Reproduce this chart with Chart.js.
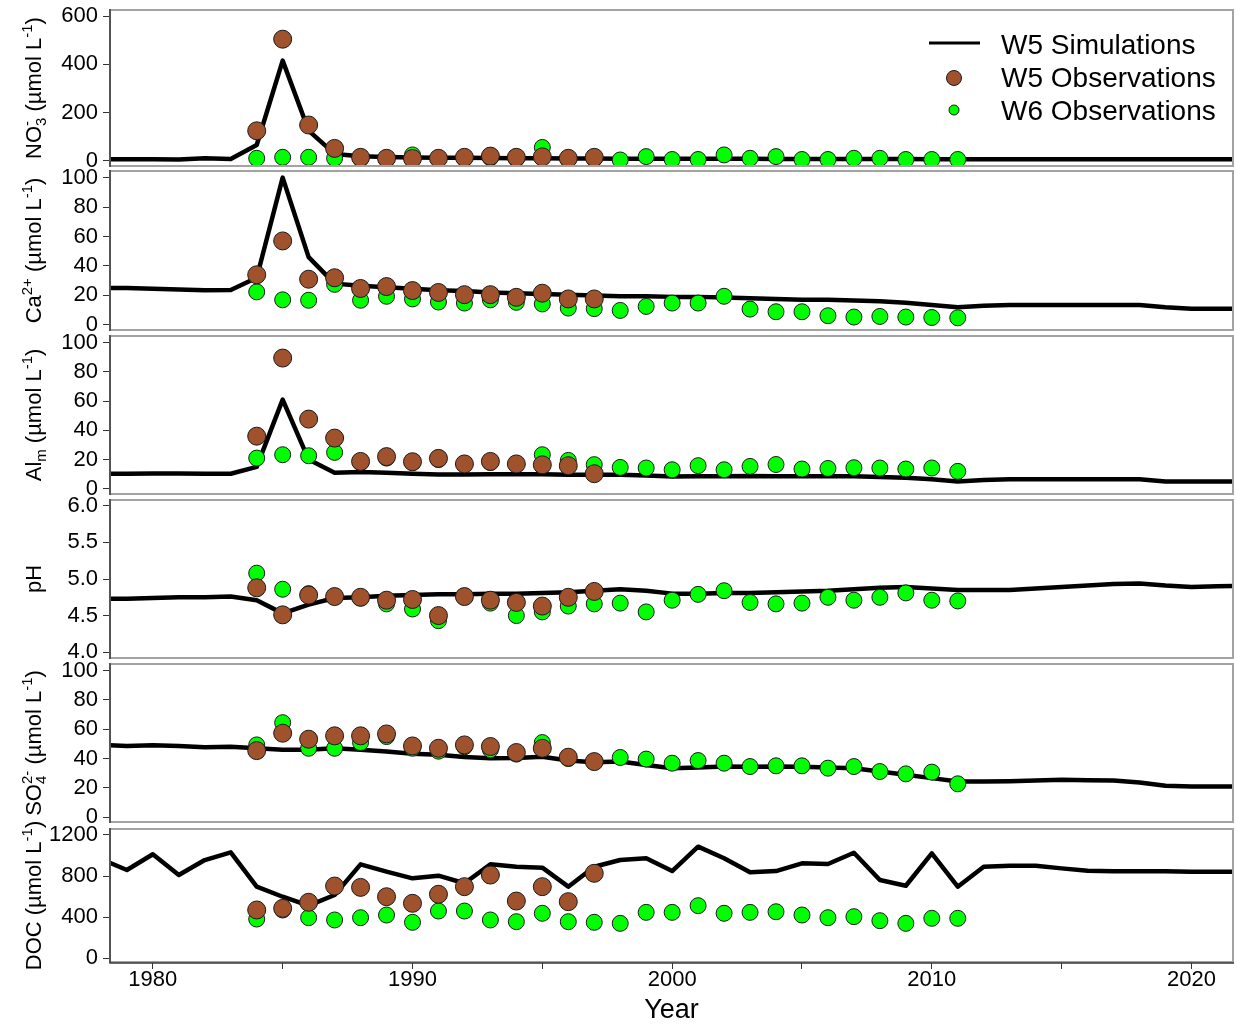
<!DOCTYPE html>
<html>
<head>
<meta charset="utf-8">
<title>W5 / W6 stream chemistry</title>
<script src="https://cdn.jsdelivr.net/npm/chart.js@4.4.1/dist/chart.umd.min.js"></script>
<style>
  html, body { margin: 0; padding: 0; background: #ffffff; }
  #page { position: relative; width: 1237px; height: 1027px; overflow: hidden; background: #ffffff; }
  #page canvas { position: absolute; left: 0; }
</style>
</head>
<body>
<div id="page"></div>
<script>
// ---------------- data ----------------
const simYears = [1978, 1979, 1980, 1981, 1982, 1983, 1984, 1985, 1986, 1987, 1988, 1989, 1990, 1991, 1992,
  1993, 1994, 1995, 1996, 1997, 1998, 1999, 2000, 2001, 2002, 2003, 2004, 2005, 2006, 2007, 2008, 2009, 2010,
  2011, 2012, 2013, 2014, 2015, 2016, 2017, 2018, 2019, 2020, 2021, 2022];
const w5Years = [1984, 1985, 1986, 1987, 1988, 1989, 1990, 1991, 1992, 1993, 1994, 1995, 1996, 1997];
const w6Years = [1984, 1985, 1986, 1987, 1988, 1989, 1990, 1991, 1992, 1993, 1994, 1995, 1996, 1997, 1998,
  1999, 2000, 2001, 2002, 2003, 2004, 2005, 2006, 2007, 2008, 2009, 2010, 2011];

// NO3- (umol/L)
const no3Sim = [6, 6, 6, 5, 10, 7, 65, 415, 125, 28, 18, 15, 13, 12, 12, 11, 10, 10, 9, 9, 8, 8, 8, 8, 8, 8,
  7, 7, 7, 7, 7, 7, 6, 6, 6, 6, 6, 6, 6, 6, 6, 6, 6, 6, 6];
const no3W5 = [124, 504, 148, 51, 14, 10, 9, 10, 14, 19, 14, 16, 10, 14];
const no3W6 = [10, 14, 14, 10, 8, 5, 24, 8, 10, 12, 8, 55, 5, 8, 3, 17, 5, 5, 24, 10, 17, 5, 5, 10, 10, 5, 5, 5];

// Ca2+ (umol/L)
const caSim = [25, 25, 24.5, 24, 23.5, 23.7, 32, 100, 46, 28, 26.5, 25.5, 24.5, 23.5, 23, 22, 21.5, 21, 20.5,
  20, 19.5, 19.5, 19, 19, 18.5, 18, 17.5, 17, 17, 16.5, 16, 15, 13.5, 12, 13, 13.5, 13.5, 13.5, 13.5, 13.5,
  13.5, 12, 11, 11, 11];
const caW5 = [34, 57, 31, 32, 24.7, 26, 23.3, 22, 20.5, 20.5, 18.7, 21.5, 17.6, 17.6];
const caW6 = [22.4, 17, 16.7, 27.5, 16.7, 19.4, 17.6, 15.5, 14.8, 17, 15.3, 14.2, 11.4, 11, 9.8, 12.5, 14.8,
  14.8, 19.4, 10.7, 8.9, 8.9, 6.2, 5.3, 5.7, 5.3, 5, 4.8];

// Al(m) (umol/L)
const alSim = [10.3, 10.3, 10.5, 10.5, 10.3, 10.3, 15, 61, 20, 11, 11.5, 11, 10.3, 9.8, 9.8, 10, 10, 10, 9.5,
  9.5, 9.5, 9, 8.4, 8.5, 8.5, 8.8, 8.6, 8.5, 8.5, 8.5, 8, 7.5, 6.5, 5, 6, 6.5, 6.5, 6.5, 6.5, 6.5, 6.5, 5, 5,
  5, 5];
const alW5 = [36, 89.5, 47.7, 34.7, 18.7, 22, 18.5, 20.8, 17, 18.7, 17, 16.4, 15.8, 10.3];
const alW6 = [21, 23.3, 22.6, 24.9, 18, 21, 18, 20, 17, 18, 17, 23.3, 19.4, 16.5, 14.6, 14.2, 13, 15.8, 13,
  15.3, 16.6, 13.5, 13.9, 14.4, 14.2, 13.5, 14.2, 11.9];

// pH
const phSim = [4.73, 4.73, 4.74, 4.75, 4.75, 4.76, 4.71, 4.53, 4.65, 4.74, 4.75, 4.77, 4.78, 4.79, 4.79, 4.8,
  4.8, 4.81, 4.82, 4.84, 4.86, 4.84, 4.8, 4.8, 4.81, 4.81, 4.82, 4.83, 4.84, 4.86, 4.88, 4.89, 4.87, 4.85,
  4.85, 4.85, 4.87, 4.89, 4.91, 4.93, 4.94, 4.91, 4.89, 4.9, 4.91];
const phW5 = [4.88, 4.51, 4.78, 4.76, 4.75, 4.71, 4.72, 4.5, 4.76, 4.71, 4.68, 4.63, 4.75, 4.83];
const phW6 = [5.08, 4.86, 4.8, 4.76, 4.74, 4.66, 4.59, 4.43, 4.76, 4.67, 4.5, 4.55, 4.63, 4.66, 4.67, 4.55,
  4.71, 4.79, 4.84, 4.68, 4.66, 4.67, 4.75, 4.71, 4.75, 4.81, 4.71, 4.7];

// SO4 2- (umol/L)
const so4Sim = [49.3, 48.5, 49, 48.5, 47.7, 48, 47, 46, 46, 47, 46, 44.8, 43.2, 42.5, 41, 40.2, 40.3, 41.2,
  38.6, 37.5, 37.9, 35.5, 33.4, 33.9, 34.5, 34.3, 34.5, 34.3, 33.9, 33.4, 31.1, 28.9, 26.6, 24.3, 24.3, 24.5,
  25, 25.4, 25.2, 25, 23.6, 21.4, 20.9, 20.9, 20.9];
const so4W5 = [45.4, 57.3, 53.2, 55.5, 55.5, 56.8, 48.6, 47, 49.3, 48.2, 44.1, 47, 40.9, 37.9];
const so4W6 = [49.3, 64.5, 47, 47, 50.9, 55, 47, 45, 48, 46, 43, 50.9, 40, 38, 40.7, 39.6, 36.8, 38.6, 36.8,
  34.5, 35, 35, 33.4, 34.5, 31.1, 29.5, 30.7, 22.7];

// DOC (umol/L)
const docSim = [965, 859, 1012, 810, 956, 1031, 697, 599, 512, 616, 914, 843, 778, 804, 730, 914, 891, 882,
  697, 891, 956, 973, 849, 1086, 973, 837, 849, 924, 918, 1027, 762, 706, 1021, 697, 891, 900, 900, 875, 852,
  848, 848, 846, 843, 843, 843];
const docW5 = [470, 486, 545, 703, 690, 599, 535, 623, 697, 810, 557, 697, 551, 827];
const docW6 = [382, 470, 395, 373, 395, 421, 350, 460, 460, 373, 356, 438, 356, 350, 340, 447, 447, 512, 438,
  447, 453, 421, 395, 405, 366, 340, 389, 389];

// axis ticks
const xTickYears = [1980, 1985, 1990, 1995, 2000, 2005, 2010, 2015, 2020];
const xLabelYears = [1980, 1990, 2000, 2010, 2020];
const no3Ticks = [0, 200, 400, 600];
const pctTicks = [0, 20, 40, 60, 80, 100];
const phTicks = [4.0, 4.5, 5.0, 5.5, 6.0];
const docTicks = [0, 400, 800, 1200];
const seriesNames = ['W5 Simulations', 'W5 Observations', 'W6 Observations'];

// ---------------- styling / layout ----------------
const FONT = "'Liberation Sans', Arial, Helvetica, sans-serif";
const PAGE_W = 1237, PAGE_H = 1027;
const PLOT_LEFT = 110, PLOT_RIGHT = 1233;
const X_MIN = 1978.35, X_MAX = 2021.6;
const SIM_COLOR = '#000000';
const W5_COLOR = '#a0522d';
const W6_COLOR = '#00ff00';
const EDGE_COLOR = '#1a1a1a';
const TICK_SIZE = 22;

const panels = [
  { top: 10, bottom: 166, min: -22, max: 625, ticks: no3Ticks, digits: 0,
    sim: no3Sim, w5: no3W5, w6: no3W6,
    title: [['NO'], ['3', '-', 'subsup'], [' (\u00b5mol L'], ['-1', 'sup'], [')']] },
  { top: 171, bottom: 330, min: -3.5, max: 104.5, ticks: pctTicks, digits: 0,
    sim: caSim, w5: caW5, w6: caW6,
    title: [['Ca'], ['2+', 'sup'], [' (\u00b5mol L'], ['-1', 'sup'], [')']] },
  { top: 336, bottom: 494, min: -3.6, max: 104.6, ticks: pctTicks, digits: 0,
    sim: alSim, w5: alW5, w6: alW6,
    title: [['Al'], ['m', 'sub'], [' (\u00b5mol L'], ['-1', 'sup'], [')']] },
  { top: 500, bottom: 658, min: 3.92, max: 6.08, ticks: phTicks, digits: 1,
    sim: phSim, w5: phW5, w6: phW6,
    title: [['pH']] },
  { top: 664, bottom: 822, min: -3.4, max: 104.6, ticks: pctTicks, digits: 0,
    sim: so4Sim, w5: so4W5, w6: so4W6,
    title: [['SO'], ['4', '2-', 'subsup'], [' (\u00b5mol L'], ['-1', 'sup'], [')']] },
  { top: 829, bottom: 962, min: -36, max: 1258, ticks: docTicks, digits: 0,
    sim: docSim, w5: docW5, w6: docW6,
    title: [['DOC (\u00b5mol L'], ['-1', 'sup'], [')']] }
];

// ---------------- plugins ----------------
// Rotated y-axis title with sub/superscripts
const richTitle = {
  id: 'richTitle',
  afterDraw(chart, args, o) {
    if (!o || !o.parts) return;
    const ctx = chart.ctx, a = chart.chartArea;
    const size = o.size, small = size * 0.68;
    const big = `${size}px ${FONT}`, little = `${small}px ${FONT}`;
    const w = (t, f) => { ctx.font = f; return ctx.measureText(t).width; };
    const items = o.parts.map(p => {
      const kind = p[p.length - 1];
      if (p.length === 1) return { kind: 'n', t: p[0], width: w(p[0], big) };
      if (kind === 'subsup') return { kind, sub: p[0], sup: p[1], width: Math.max(w(p[0], little), w(p[1], little)) };
      return { kind, t: p[0], width: w(p[0], little) };
    });
    const total = items.reduce((s, it) => s + it.width, 0);
    ctx.save();
    ctx.translate(o.x, (a.top + a.bottom) / 2);
    ctx.rotate(-Math.PI / 2);
    ctx.fillStyle = '#000';
    ctx.textAlign = 'left';
    ctx.textBaseline = 'alphabetic';
    let cx = -total / 2;
    const upShift = -size * 0.42, downShift = size * 0.22;
    items.forEach(it => {
      if (it.kind === 'n') { ctx.font = big; ctx.fillText(it.t, cx, 0); }
      else if (it.kind === 'sup') { ctx.font = little; ctx.fillText(it.t, cx, upShift); }
      else if (it.kind === 'sub') { ctx.font = little; ctx.fillText(it.t, cx, downShift); }
      else { ctx.font = little; ctx.fillText(it.sub, cx, downShift); ctx.fillText(it.sup, cx, upShift); }
      cx += it.width;
    });
    ctx.restore();
  }
};

// Panel frame: grey box, darker left axis (and bottom axis on the last panel)
const panelFrame = {
  id: 'panelFrame',
  afterDatasetsDraw(chart, args, o) {
    const ctx = chart.ctx, a = chart.chartArea;
    ctx.save();
    ctx.lineWidth = 2;
    ctx.strokeStyle = '#a3a3a3';
    ctx.strokeRect(a.left, a.top, a.right - a.left, a.bottom - a.top);
    ctx.strokeStyle = '#3a3a3a';
    ctx.lineWidth = 1.5;
    ctx.beginPath();
    ctx.moveTo(a.left, a.top - 1);
    ctx.lineTo(a.left, a.bottom + 1);
    if (o && o.baseAxis) { ctx.lineTo(a.right + 1, a.bottom + 1); }
    ctx.stroke();
    ctx.restore();
  }
};

// Series key drawn inside the first panel
const seriesKey = {
  id: 'seriesKey',
  afterDraw(chart, args, o) {
    if (!o || !o.show) return;
    const ctx = chart.ctx;
    ctx.save();
    ctx.font = `${o.size}px ${FONT}`;
    ctx.fillStyle = '#000';
    ctx.textAlign = 'left';
    ctx.textBaseline = 'middle';
    const rows = [45, 78, 111];
    // line sample
    ctx.strokeStyle = SIM_COLOR; ctx.lineWidth = 3;
    ctx.beginPath(); ctx.moveTo(929, rows[0] - 2); ctx.lineTo(980, rows[0] - 2); ctx.stroke();
    // markers
    ctx.lineWidth = 1; ctx.strokeStyle = EDGE_COLOR;
    ctx.fillStyle = W5_COLOR;
    ctx.beginPath(); ctx.arc(954, rows[1], 7.5, 0, Math.PI * 2); ctx.fill(); ctx.stroke();
    ctx.fillStyle = W6_COLOR;
    ctx.beginPath(); ctx.arc(954, rows[2] - 1, 5, 0, Math.PI * 2); ctx.fill(); ctx.stroke();
    ctx.fillStyle = '#000';
    seriesNames.forEach((name, i) => ctx.fillText(name, 1001, rows[i] + 1));
    ctx.restore();
  }
};

Chart.register(richTitle, panelFrame, seriesKey);

// ---------------- build panels ----------------
const page = document.getElementById('page');
const toPoints = (xs, ys) => xs.map((x, i) => ({ x, y: ys[i] }));

panels.forEach((p, i) => {
  const isFirst = i === 0, isLast = i === panels.length - 1;
  const padTop = isFirst ? p.top : 12;
  const padBottom = isLast ? 0 : 12;
  const axisH = isLast ? PAGE_H - p.bottom : 0;
  const canvasTop = p.top - padTop;
  const canvasH = (p.bottom - p.top) + padTop + padBottom + axisH;

  const cv = document.createElement('canvas');
  cv.width = PAGE_W; cv.height = canvasH;
  cv.style.width = PAGE_W + 'px'; cv.style.height = canvasH + 'px';
  cv.style.top = canvasTop + 'px';
  page.appendChild(cv);

  const xScale = {
    type: 'linear', min: X_MIN, max: X_MAX, display: isLast,
    afterBuildTicks: s => { s.ticks = xTickYears.map(v => ({ value: v })); },
    ticks: {
      autoSkip: false, maxRotation: 0, padding: 0, color: '#000',
      font: { family: FONT, size: TICK_SIZE, lineHeight: 1 },
      callback: v => (xLabelYears.includes(v) ? String(v) : '')
    },
    grid: { drawOnChartArea: false, drawTicks: true, tickLength: 7, color: '#333', lineWidth: 1 },
    border: { display: false },
    title: { display: true, text: 'Year', color: '#000', padding: 0,
             font: { family: FONT, size: 27, lineHeight: 1.2 } }
  };
  if (isLast) {
    xScale.afterFit = s => { s.height = axisH; s.paddingLeft = 0; s.paddingRight = 0; };
  }

  new Chart(cv, {
    type: 'scatter',
    data: {
      datasets: [
        { label: seriesNames[1], data: toPoints(w5Years, p.w5), order: 1,
          backgroundColor: W5_COLOR, borderColor: EDGE_COLOR, borderWidth: 1,
          pointRadius: 9, pointHoverRadius: 9 },
        { label: seriesNames[2], data: toPoints(w6Years, p.w6), order: 2,
          backgroundColor: W6_COLOR, borderColor: EDGE_COLOR, borderWidth: 1,
          pointRadius: 8, pointHoverRadius: 8 },
        { type: 'line', label: seriesNames[0], data: toPoints(simYears, p.sim), order: 3,
          borderColor: SIM_COLOR, borderWidth: 4.5, pointRadius: 0, tension: 0,
          borderJoinStyle: 'round', fill: false, showLine: true, clip: 0 }
      ]
    },
    options: {
      responsive: false, animation: false, events: [], devicePixelRatio: 1,
      layout: { autoPadding: false,
                padding: { left: 0, right: PAGE_W - PLOT_RIGHT, top: padTop, bottom: padBottom } },
      plugins: {
        legend: { display: false },
        tooltip: { enabled: false },
        richTitle: { parts: p.title, size: 22, x: 41 },
        panelFrame: { baseAxis: isLast },
        seriesKey: { show: isFirst, size: 28 }
      },
      scales: {
        x: xScale,
        y: {
          type: 'linear', min: p.min, max: p.max,
          afterBuildTicks: s => { s.ticks = p.ticks.map(v => ({ value: v })); },
          afterFit: s => { s.width = PLOT_LEFT; s.paddingTop = 0; s.paddingBottom = 0; },
          ticks: {
            autoSkip: false, padding: 5, color: '#000',
            font: { family: FONT, size: TICK_SIZE, lineHeight: 1 },
            callback: v => Number(v).toFixed(p.digits)
          },
          grid: { drawOnChartArea: false, drawTicks: true, tickLength: 7, color: '#333', lineWidth: 1 },
          border: { display: false }
        }
      }
    }
  });
});
</script>
</body>
</html>
